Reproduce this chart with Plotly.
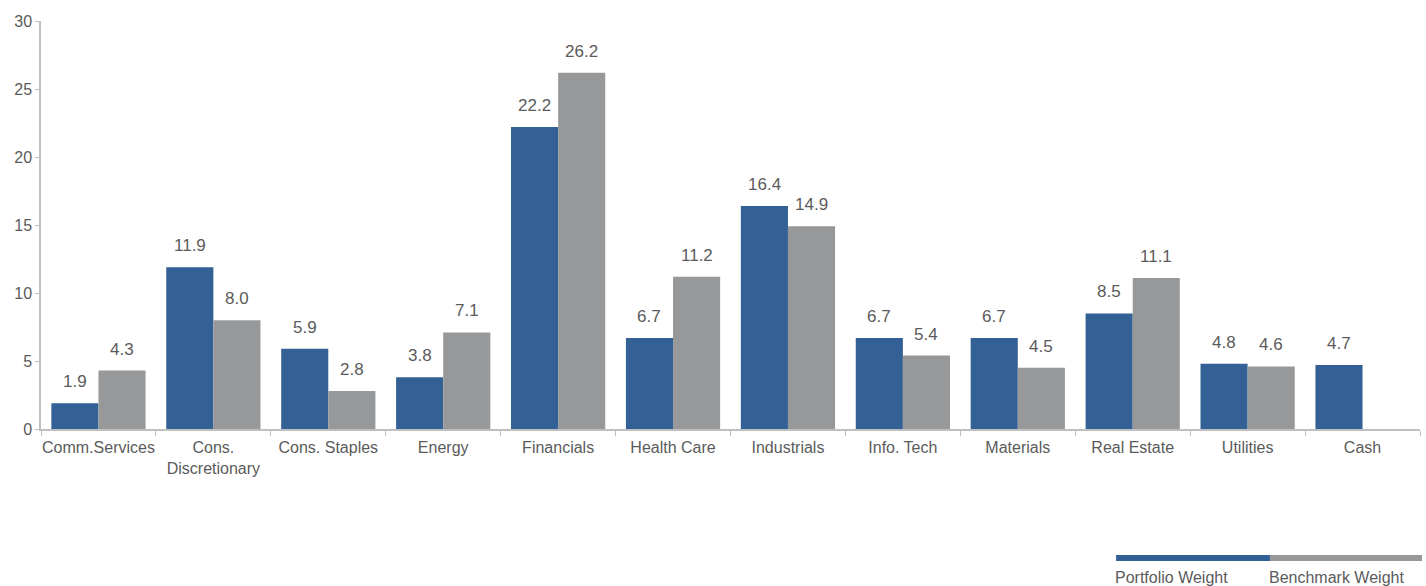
import plotly.graph_objects as go

categories = ["Comm.Services", "Cons.<br>Discretionary", "Cons. Staples", "Energy", "Financials",
              "Health Care", "Industrials", "Info. Tech", "Materials", "Real Estate", "Utilities", "Cash"]
portfolio = [1.9, 11.9, 5.9, 3.8, 22.2, 6.7, 16.4, 6.7, 6.7, 8.5, 4.8, 4.7]
benchmark = [4.3, 8.0, 2.8, 7.1, 26.2, 11.2, 14.9, 5.4, 4.5, 11.1, 4.6, None]
series_names = ["Portfolio Weight", "Benchmark Weight"]
colors = ["#336195", "#97989a"]
y_ticks = [0, 5, 10, 15, 20, 25, 30]

FONT = "Liberation Sans, Arial, sans-serif"
TXT = "#5b5b5b"
BARGAP = 0.18
PLOT_W = 1426 - 41 - 6

fig = go.Figure()
for name, vals, col in zip(series_names, [portfolio, benchmark], colors):
    fig.add_trace(go.Bar(x=categories, y=vals, name=name, marker_color=col, marker_line_width=0))

# value labels above bars (annotations, to get the larger gap above each bar)
bar_px = PLOT_W / len(categories) * (1 - BARGAP) / 2
for si, vals in enumerate([portfolio, benchmark]):
    shift = (si - 0.5) * bar_px
    for cat, v in zip(categories, vals):
        if v is None:
            continue
        fig.add_annotation(x=cat, y=v, text=f"{v:.1f}", showarrow=False, xshift=shift,
                           yanchor="bottom", yshift=10,
                           font=dict(size=17, color=TXT, family=FONT))

fig.update_layout(
    barmode="group", bargap=BARGAP, bargroupgap=0,
    width=1426, height=586, margin=dict(l=41, r=6, t=21, b=157),
    paper_bgcolor="white", plot_bgcolor="white", showlegend=False,
    font=dict(family=FONT, color=TXT, size=16),
)
fig.update_xaxes(showline=True, linecolor="#bfbfbf", linewidth=1.5, ticks="outside",
                 tickson="boundaries", ticklen=5, tickcolor="#bfbfbf", showgrid=False,
                 tickfont=dict(size=16, color=TXT), tickangle=0, ticklabelstandoff=3)
fig.update_yaxes(range=[0, 30], tickvals=y_ticks, showline=True, linecolor="#bfbfbf",
                 linewidth=1.5, ticks="outside", ticklen=4, tickcolor="#bfbfbf",
                 showgrid=False, zeroline=False, tickfont=dict(size=16, color=TXT))

# custom legend below chart (line swatches above labels)
x0, xm, x1 = 0.7796, 0.8912, 1.0015
ly = -0.316
fig.add_shape(type="line", xref="paper", yref="paper", x0=x0, x1=xm, y0=ly, y1=ly,
              line=dict(color=colors[0], width=6))
fig.add_shape(type="line", xref="paper", yref="paper", x0=xm, x1=x1, y0=ly, y1=ly,
              line=dict(color=colors[1], width=6))
fig.add_annotation(xref="paper", yref="paper", x=x0 - 0.002, y=-0.338, xanchor="left", yanchor="top",
                   text=series_names[0], showarrow=False, font=dict(size=16, color=TXT))
fig.add_annotation(xref="paper", yref="paper", x=xm - 0.002, y=-0.338, xanchor="left", yanchor="top",
                   text=series_names[1], showarrow=False, font=dict(size=16, color=TXT))

fig.write_html("out.html")
